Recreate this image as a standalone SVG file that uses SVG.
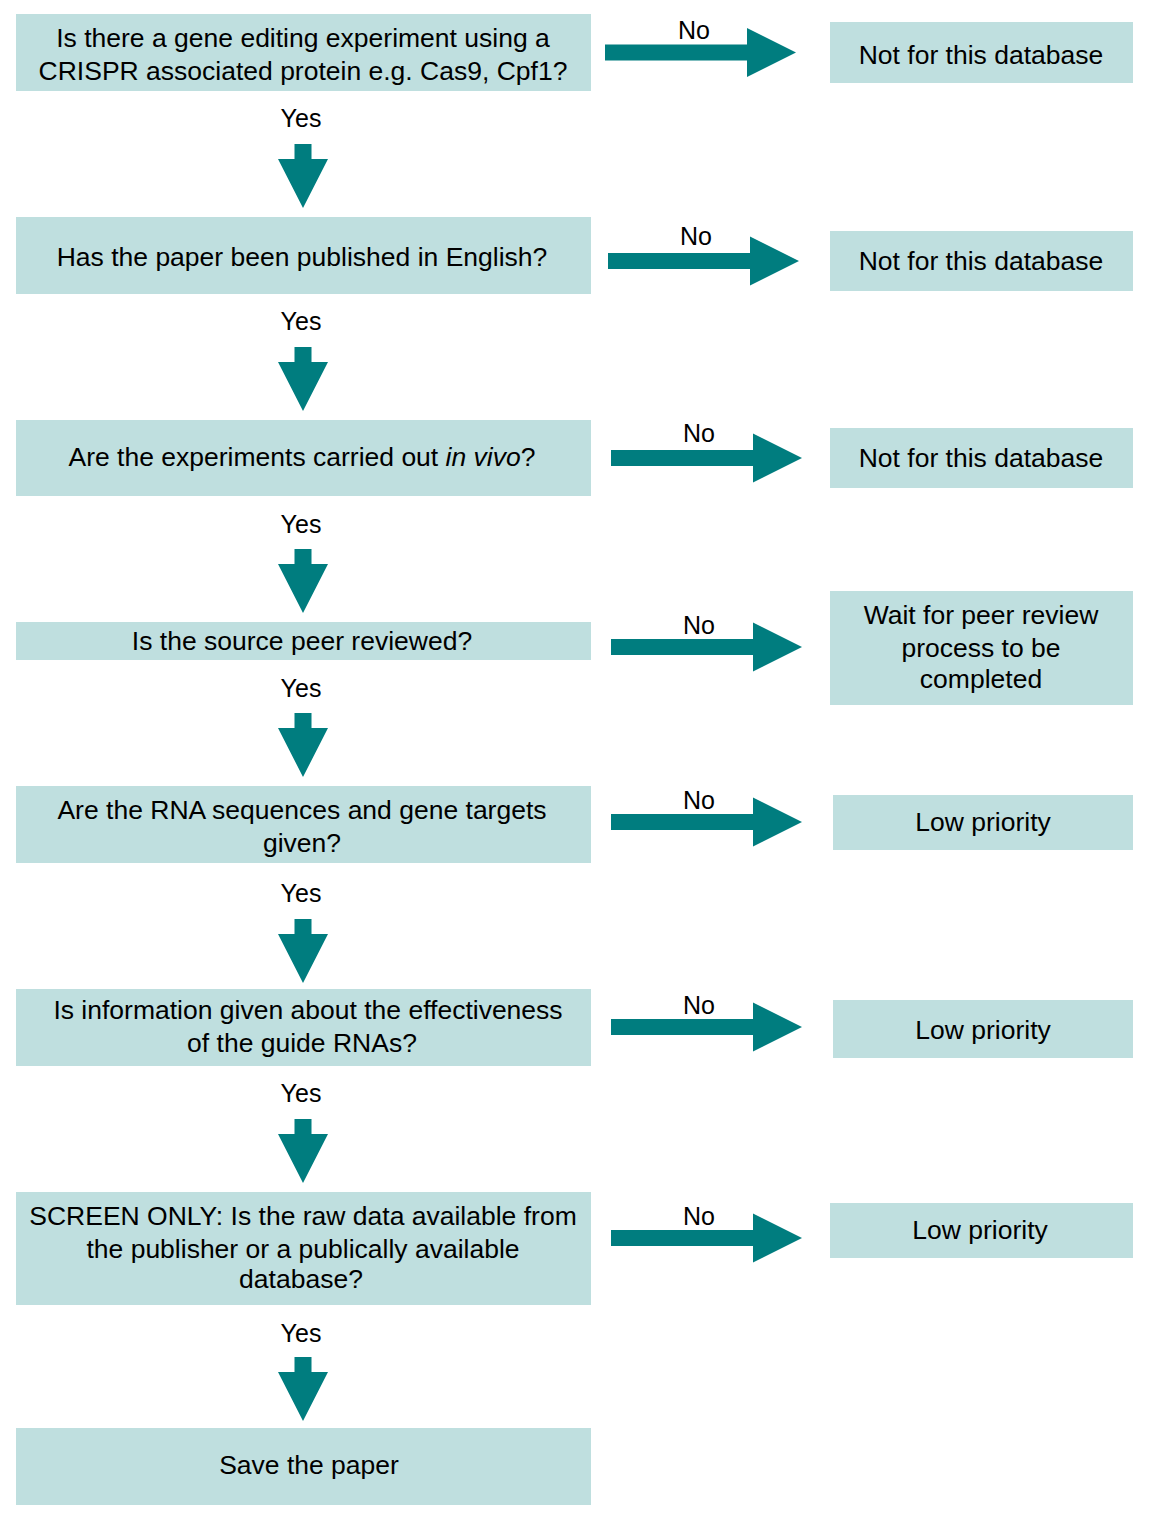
<svg xmlns="http://www.w3.org/2000/svg" width="1156" height="1523" viewBox="0 0 1156 1523">
<style>
.box{fill:#bfdfdf}
.t{font-family:"Liberation Sans",Arial,Helvetica,sans-serif;font-size:26.5px;fill:#000;text-anchor:middle}
.lbl{font-family:"Liberation Sans",Arial,Helvetica,sans-serif;font-size:25px;fill:#000;text-anchor:middle}
.arr{fill:#007d7f}
</style>
<rect width="1156" height="1523" fill="#fff"/>
<defs>
<path id="down" d="M-8.5,0 H8.5 V15 H25 L0,64 L-25,15 H-8.5 Z"/>
<path id="right" d="M0,-8 H142 V-24.5 L191,0 L142,24.5 V8 H0 Z"/>
</defs>
<g id="connectors">
<use href="#down" class="arr" x="303" y="144"/>
<use href="#down" class="arr" x="303" y="347"/>
<use href="#down" class="arr" x="303" y="549"/>
<use href="#down" class="arr" x="303" y="713"/>
<use href="#down" class="arr" x="303" y="919"/>
<use href="#down" class="arr" x="303" y="1119"/>
<use href="#down" class="arr" x="303" y="1357"/>
<text class="lbl" x="301" y="127">Yes</text>
<text class="lbl" x="301" y="330">Yes</text>
<text class="lbl" x="301" y="533">Yes</text>
<text class="lbl" x="301" y="697">Yes</text>
<text class="lbl" x="301" y="902">Yes</text>
<text class="lbl" x="301" y="1102">Yes</text>
<text class="lbl" x="301" y="1342">Yes</text>
<use href="#right" class="arr" x="605" y="52.5"/>
<use href="#right" class="arr" x="608" y="261"/>
<use href="#right" class="arr" x="611" y="458"/>
<use href="#right" class="arr" x="611" y="647"/>
<use href="#right" class="arr" x="611" y="822"/>
<use href="#right" class="arr" x="611" y="1027"/>
<use href="#right" class="arr" x="611" y="1238"/>
<text class="lbl" x="694" y="39">No</text>
<text class="lbl" x="696" y="245">No</text>
<text class="lbl" x="699" y="442">No</text>
<text class="lbl" x="699" y="634">No</text>
<text class="lbl" x="699" y="809">No</text>
<text class="lbl" x="699" y="1014">No</text>
<text class="lbl" x="699" y="1225">No</text>
</g>
<g id="q1"><rect class="box" x="16" y="14" width="575" height="77"/>
<text class="t" x="303" y="47">Is there a gene editing experiment using a</text>
<text class="t" x="303" y="80">CRISPR associated protein e.g. Cas9, Cpf1?</text></g>
<g id="q2"><rect class="box" x="16" y="217" width="575" height="77"/>
<text class="t" x="302" y="266">Has the paper been published in English?</text></g>
<g id="q3"><rect class="box" x="16" y="420" width="575" height="76"/>
<text class="t" x="302" y="466">Are the experiments carried out <tspan font-style="italic">in vivo</tspan>?</text></g>
<g id="q4"><rect class="box" x="16" y="622" width="575" height="38"/>
<text class="t" x="302" y="650">Is the source peer reviewed?</text></g>
<g id="q5"><rect class="box" x="16" y="786" width="575" height="77"/>
<text class="t" x="302" y="819">Are the RNA sequences and gene targets</text>
<text class="t" x="302" y="852">given?</text></g>
<g id="q6"><rect class="box" x="16" y="989" width="575" height="77"/>
<text class="t" x="308" y="1019">Is information given about the effectiveness</text>
<text class="t" x="302" y="1052">of the guide RNAs?</text></g>
<g id="q7"><rect class="box" x="16" y="1192" width="575" height="113"/>
<text class="t" x="303" y="1225">SCREEN ONLY: Is the raw data available from</text>
<text class="t" x="303" y="1258">the publisher or a publically available</text>
<text class="t" x="301" y="1288">database?</text></g>
<g id="save"><rect class="box" x="16" y="1428" width="575" height="77"/>
<text class="t" x="309" y="1474">Save the paper</text></g>
<g id="r1"><rect class="box" x="830" y="22" width="303" height="61"/>
<text class="t" x="981" y="64">Not for this database</text></g>
<g id="r2"><rect class="box" x="830" y="231" width="303" height="60"/>
<text class="t" x="981" y="270">Not for this database</text></g>
<g id="r3"><rect class="box" x="830" y="428" width="303" height="60"/>
<text class="t" x="981" y="467">Not for this database</text></g>
<g id="r4"><rect class="box" x="830" y="591" width="303" height="114"/>
<text class="t" x="981" y="624">Wait for peer review</text>
<text class="t" x="981" y="657">process to be</text>
<text class="t" x="981" y="688">completed</text></g>
<g id="r5"><rect class="box" x="833" y="795" width="300" height="55"/>
<text class="t" x="983" y="831">Low priority</text></g>
<g id="r6"><rect class="box" x="833" y="1000" width="300" height="58"/>
<text class="t" x="983" y="1039">Low priority</text></g>
<g id="r7"><rect class="box" x="830" y="1203" width="303" height="55"/>
<text class="t" x="980" y="1239">Low priority</text></g>
</svg>
